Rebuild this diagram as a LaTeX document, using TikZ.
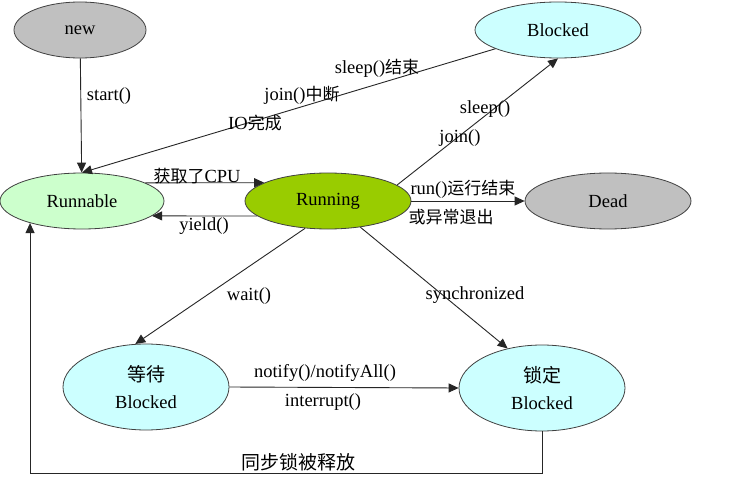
\documentclass[tikz,border=0pt]{standalone}
\usepackage{fontspec}
\setmainfont{Liberation Serif}
\newfontfamily\cjkfont{Noto Sans CJK SC}
\usetikzlibrary{arrows.meta,shapes.geometric}
\newcommand\zh[1]{{\cjkfont\fontsize{17}{20}\selectfont #1}}
\newcommand\zhbig[1]{{\cjkfont\fontsize{19}{22}\selectfont #1}}
\definecolor{cgray}{HTML}{C0C0C0}
\definecolor{ccyan}{HTML}{CCFFFF}
\definecolor{cgreen}{HTML}{CCFFCC}
\definecolor{crun}{HTML}{99CC00}
\begin{document}
\begin{tikzpicture}[x=1pt,y=-1pt,
  st/.style={ellipse,draw=black!75,line width=0.8pt,inner sep=0pt,minimum width=166pt,minimum height=56pt,font=\fontsize{18.5}{20}\selectfont,align=center},
  arr/.style={draw=black!85,line width=0.9pt,-{Triangle[length=10pt,width=9pt]}},
  lbl/.style={inner sep=0pt,font=\fontsize{18.5}{20}\selectfont}]
\useasboundingbox (0,0) rectangle (744,481);
\fill[white] (0,0) rectangle (744,481);
% states
\node[st,fill=cgray,minimum width=132pt] (new) at (80,30) {new};
\node[st,fill=ccyan] (blk) at (558,30) {Blocked};
\node[st,fill=cgreen,minimum width=164pt] (run) at (82,201) {Runnable};
\node[st,fill=crun] (rng) at (328,201) {Running};
\node[st,fill=cgray] (dead) at (608,201) {Dead};
\node[st,fill=ccyan,minimum height=86pt] (wt) at (146,387) {\zhbig{等待}\\[7pt]Blocked};
\node[st,fill=ccyan,minimum height=86pt] (lk) at (542,388) {\zhbig{锁定}\\[7pt]Blocked};
% connectors
\draw[arr] (new) -- (run);
\draw[arr] (blk) -- (run.north);
\draw[arr] (run.16) -- (rng.164);
\draw[arr] (rng.192) -- (run.-12);
\draw[arr] (rng.13) -- (blk.south);
\draw[arr] (rng.east) -- (dead.west);
\draw[arr] (rng.230) -- (wt.104);
\draw[arr] (rng.-39) -- (lk.131);
\draw[arr] (wt.east) -- (lk.west);
\draw[arr] (lk.south) -- ++(0,42) -| (run.203);
% labels
\node[lbl] (lstart) at (109,96) {start()};
\node[lbl] (lsleepend) at (377,68) {sleep()\zh{结束}};
\node[lbl] (ljoinint) at (302,95) {join()\zh{中断}};
\node[lbl] (lio) at (255,123) {IO\zh{完成}};
\node[lbl] (lcpu) at (197,176) {\zh{获取了}CPU};
\node[lbl] (lyield) at (204,226) {yield()};
\node[lbl] (lsleep) at (485,109) {sleep()};
\node[lbl] (ljoin) at (460,138) {join()};
\node[lbl] (lrun1) at (463,189) {run()\zh{运行结束}};
\node[lbl] (lrun2) at (451,217) {\zh{或异常退出}};
\node[lbl] (lwait) at (249,296) {wait()};
\node[lbl] (lsync) at (475,295) {synchronized};
\node[lbl] (lnotify) at (325,373) {notify()/notifyAll()};
\node[lbl] (lintr) at (323,402) {interrupt()};
\node[lbl] (lrel) at (298,462) {\zhbig{同步锁被释放}};
\end{tikzpicture}
\end{document}
